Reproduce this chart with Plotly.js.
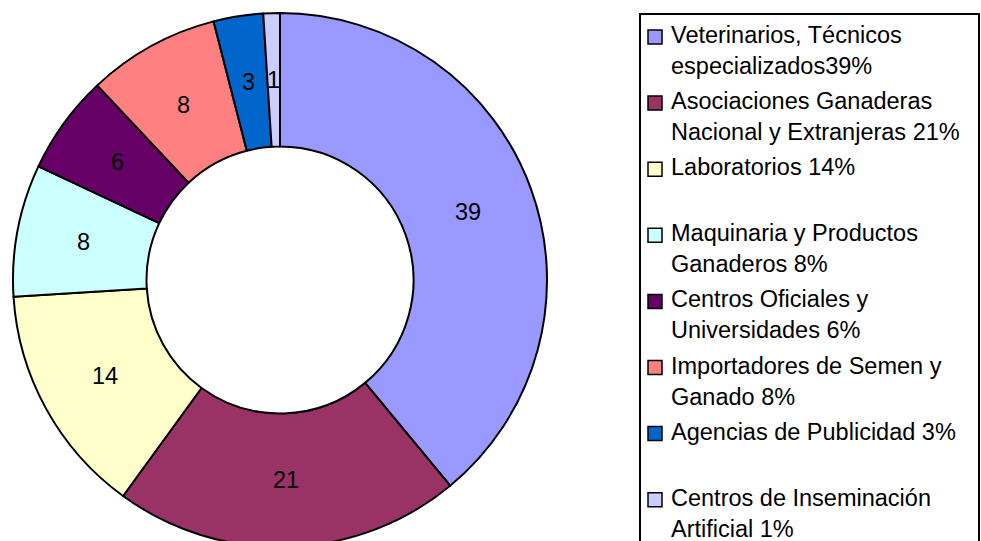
<!DOCTYPE html>
<html>
<head>
<meta charset="utf-8">
<script src="https://cdn.plot.ly/plotly-3.0.1.min.js"></script>
<style>
html, body { margin: 0; padding: 0; overflow: hidden; background: #fff; }
#chart { width: 981px; height: 600px; }
</style>
</head>
<body>
<div id="chart"></div>
<script>
const categories = [
  "Veterinarios, Técnicos especializados",
  "Asociaciones Ganaderas Nacional y Extranjeras",
  "Laboratorios",
  "Maquinaria y Productos Ganaderos",
  "Centros Oficiales y Universidades",
  "Importadores de Semen y Ganado",
  "Agencias de Publicidad",
  "Centros de Inseminación Artificial"
];
const values = [39, 21, 14, 8, 6, 8, 3, 1];
const legendLines = [
  ["Veterinarios, Técnicos", "especializados39%"],
  ["Asociaciones Ganaderas", "Nacional y Extranjeras 21%"],
  ["Laboratorios 14%"],
  ["Maquinaria y Productos", "Ganaderos 8%"],
  ["Centros Oficiales y", "Universidades 6%"],
  ["Importadores de Semen y", "Ganado 8%"],
  ["Agencias de Publicidad 3%"],
  ["Centros de Inseminación", "Artificial 1%"]
];
const colors = ["#9999FF", "#993366", "#FFFFCC", "#CCFFFF", "#660066", "#FF8080", "#0066CC", "#CCCCFF"];

const W = 981, H = 600;
const FONT = "Liberation Sans, Arial, sans-serif";
const FS = 23.5;
const px = x => x / W;
const py = y => 1 - y / H;

// pie geometry (pixels)
const CX = 280, CY = 280, R_OUT = 267, HOLE = 0.5;
const R_MID = R_OUT * (1 + HOLE) / 2;

const shapes = [];
const annotations = [];

// slice value labels at mid-ring, derived from the data
const total = values.reduce((a, b) => a + b, 0);
let cum = 0;
values.forEach((v) => {
  const frac = (cum + v / 2) / total;
  cum += v;
  const ang = frac * 2 * Math.PI;
  annotations.push({
    xref: "paper", yref: "paper",
    x: px(CX + R_MID * Math.sin(ang)), y: py(CY - R_MID * Math.cos(ang)),
    xanchor: "center", yanchor: "middle", showarrow: false,
    text: String(v), font: { family: FONT, size: FS, color: "#000" }
  });
});

// legend box
shapes.push({
  type: "rect", xref: "paper", yref: "paper",
  x0: px(640), x1: px(979), y0: py(14), y1: py(620),
  line: { color: "#000", width: 2 }, fillcolor: "rgba(0,0,0,0)", layer: "above"
});

legendLines.forEach((lines, i) => {
  const yc = 35 + 66.1 * i;
  shapes.push({
    type: "rect", xref: "paper", yref: "paper",
    x0: px(648), x1: px(662), y0: py(yc - 5), y1: py(yc + 9),
    line: { color: "#000", width: 1.5 }, fillcolor: colors[i], layer: "above"
  });
  lines.forEach((t, j) => {
    annotations.push({
      xref: "paper", yref: "paper", x: px(669), y: py(yc + 31 * j),
      xanchor: "left", yanchor: "middle", showarrow: false,
      text: t, font: { family: FONT, size: FS, color: "#000" }
    });
  });
});

const trace = {
  type: "pie",
  labels: categories,
  values: values,
  sort: false,
  direction: "clockwise",
  rotation: 0,
  hole: HOLE,
  marker: { colors: colors, line: { color: "#000", width: 2 } },
  textinfo: "none",
  domain: { x: [px(CX - R_OUT), px(CX + R_OUT)], y: [1 - (CY + R_OUT) / H, 1 - (CY - R_OUT) / H] },
  showlegend: false,
  hoverinfo: "label+value"
};

const layout = {
  width: W, height: H,
  margin: { l: 0, r: 0, t: 0, b: 0 },
  paper_bgcolor: "#fff",
  showlegend: false,
  shapes: shapes,
  annotations: annotations
};

Plotly.newPlot("chart", [trace], layout, { displayModeBar: false, staticPlot: true });
</script>
</body>
</html>
